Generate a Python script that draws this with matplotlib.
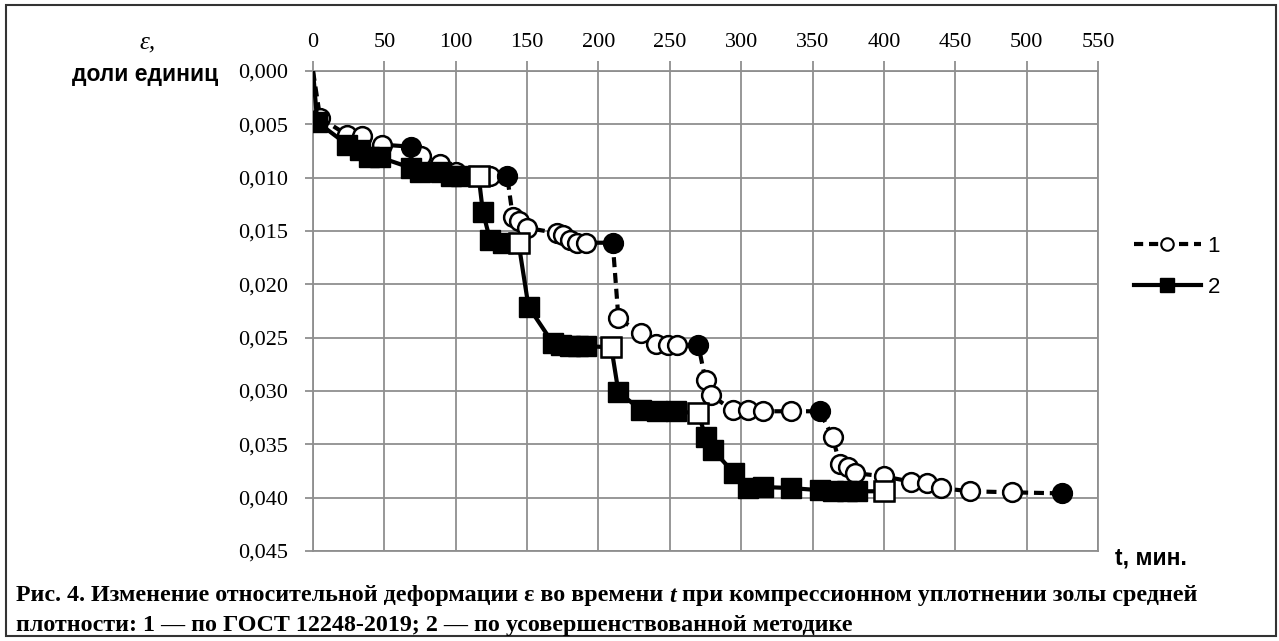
import matplotlib
matplotlib.use('Agg')
import matplotlib.pyplot as plt
from matplotlib.lines import Line2D
from matplotlib.patches import Rectangle
from matplotlib.ticker import FuncFormatter, MultipleLocator

# данные: серия 1 (по ГОСТ), серия 2 (усовершенствованная методика)
t1 = [0, 5, 24, 34, 48, 69, 76, 89, 100, 112, 124, 136, 140, 144, 150, 171, 175, 180, 185, 191, 210,
      214, 230, 240, 249, 255, 270, 275, 279, 294, 305, 315, 335, 355, 364, 369, 375, 380, 400, 419,
      430, 440, 460, 490, 525]
e1 = [0.0, 0.0044, 0.0060, 0.0061, 0.0069, 0.0071, 0.0080, 0.0087, 0.0095, 0.0098, 0.0098, 0.0098,
      0.0137, 0.0141, 0.0147, 0.0152, 0.0154, 0.0158, 0.0161, 0.0161, 0.0161,
      0.0232, 0.0246, 0.0256, 0.0257, 0.0257, 0.0257, 0.0290, 0.0304, 0.0318, 0.0318, 0.0319, 0.0319,
      0.0319, 0.0343, 0.0368, 0.0371, 0.0377, 0.0380, 0.0385, 0.0386, 0.0391, 0.0394, 0.0395, 0.0396]
t1_full = [69, 136, 210, 270, 355, 525]   # залитые кружки

t2 = [0, 3, 24, 33, 39, 47, 69, 75, 90, 97, 104, 116, 119, 124, 133, 144, 151, 168, 174, 180, 186,
      191, 209, 214, 230, 241, 254, 270, 275, 280, 295, 305, 315, 335, 355, 364, 374, 381, 400]
e2 = [0.0, 0.0048, 0.0069, 0.0074, 0.0081, 0.0081, 0.0091, 0.0095, 0.0095, 0.0098, 0.0098, 0.0098,
      0.0132, 0.0158, 0.0161, 0.0161, 0.0221, 0.0255, 0.0257, 0.0258, 0.0258, 0.0258, 0.0259,
      0.0301, 0.0318, 0.0319, 0.0319, 0.0321, 0.0343, 0.0355, 0.0377, 0.0391, 0.0390, 0.0391,
      0.0393, 0.0394, 0.0394, 0.0394, 0.0394]
t2_open = [116, 144, 209, 270, 400]       # светлые квадраты

xticks = list(range(0, 551, 50))

W, H = 1279, 641
fig = plt.figure(figsize=(W / 100, H / 100), dpi=100)
ax = fig.add_axes([313 / W, 1 - 551 / H, 785 / W, 480 / H])

grey = '#8f8f8f'
ax.set_xlim(0, 550)
ax.set_ylim(0.045, 0)
ax.set_xticks(xticks)
ax.yaxis.set_major_locator(MultipleLocator(0.005))
ax.yaxis.set_major_formatter(FuncFormatter(lambda v, p: f'{v:.3f}'.replace('.', ',')))
ax.xaxis.tick_top()
ax.tick_params(axis='x', length=7, width=1.3, color=grey, pad=7)
ax.tick_params(axis='y', length=6, width=1.3, color=grey, pad=12)
for lab in ax.get_xticklabels() + ax.get_yticklabels():
    lab.set_fontfamily('Liberation Serif')
    lab.set_fontsize(16)
for s in ax.spines.values():
    s.set_color(grey)
    s.set_linewidth(1.3)
ax.grid(True, color=grey, lw=1.3)
ax.set_axisbelow(True)

# серия 1
ax.plot(t1, e1, color='k', lw=3, dashes=(2.4, 1.4), marker='o', ms=13.5, mfc='white', mec='k',
        mew=1.8, markevery=list(range(1, len(t1))), zorder=3)
f1 = [e1[t1.index(v)] for v in t1_full]
ax.plot(t1_full, f1, 'o', color='k', ms=13.5, zorder=3)

# серия 2
ax.plot(t2, e2, color='k', lw=3, marker='s', ms=14, mfc='k', mec='k',
        markevery=list(range(1, len(t2))), zorder=4)
o2 = [e2[t2.index(v)] for v in t2_open]
ax.plot(t2_open, o2, 's', ms=14, mfc='white', mec='k', mew=1.8, zorder=4)

# легенда
h1 = Line2D([], [], color='k', lw=3, dashes=(2.2, 1.4), marker='o', ms=9, mfc='white', mec='k', mew=1.5)
h2 = Line2D([], [], color='k', lw=3, marker='s', ms=10, mfc='k', mec='k')
fig.legend([h1, h2], ['1', '2'], loc='center left', bbox_to_anchor=(1123 / W, 1 - 267 / H),
           frameon=False, handlelength=3.0, handletextpad=0.3, labelspacing=0.9,
           borderpad=0, prop={'family': 'Liberation Sans', 'size': 16})

# подписи осей
fig.text(148 / W, 1 - 42 / H, 'ε,', fontfamily='Liberation Serif', fontstyle='italic',
         fontsize=18, ha='center', va='center')
fig.text(218 / W, 1 - 74 / H, 'доли единиц', fontfamily='Liberation Sans', fontweight='bold',
         fontsize=16.5, ha='right', va='center')
fig.text(1115 / W, 1 - 558 / H, 't, мин.', fontfamily='Liberation Sans', fontweight='bold',
         fontsize=16.5, ha='left', va='center')

# подпись рисунка
cap = dict(fontfamily='Liberation Serif', fontweight='bold', fontsize=17.3, va='center')
renderer = fig.canvas.get_renderer()
y1 = 1 - 596 / H
parts = [('Рис. 4. Изменение относительной деформации ε во времени ', 'normal'),
         ('t', 'italic'),
         (' при компрессионном уплотнении золы средней', 'normal')]
x = 16 / W
for txt, st in parts:
    tt = fig.text(x, y1, txt, fontstyle=st, ha='left', **cap)
    bb = tt.get_window_extent(renderer)
    x = bb.x1 / W
fig.text(16 / W, 1 - 626 / H, 'плотности: 1 — по ГОСТ 12248-2019; 2 — по усовершенствованной методике',
         ha='left', **cap)

fig.patches.append(Rectangle((6 / W, 5 / H), 1270 / W, 631 / H, transform=fig.transFigure,
                             fill=False, ec='#333333', lw=1.5))

fig.savefig('out.png', dpi=100)
